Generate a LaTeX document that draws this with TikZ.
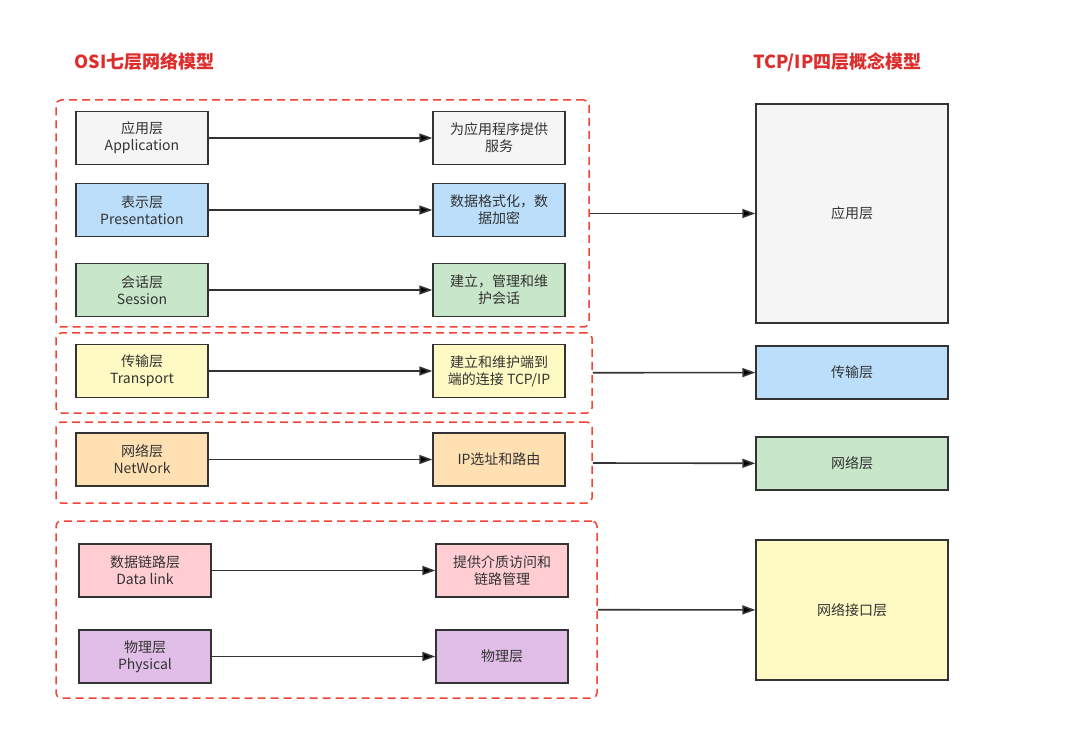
\documentclass[tikz,border=0pt]{standalone}
\usepackage{fontspec}
\setmainfont{Noto Sans CJK SC}
\usetikzlibrary{arrows.meta}
\definecolor{boxline}{RGB}{51,51,51}
\definecolor{grouped}{RGB}{244,67,54}
\definecolor{titlered}{RGB}{222,45,45}
\definecolor{cgray}{RGB}{245,245,245}
\definecolor{cblue}{RGB}{187,222,251}
\definecolor{cgreen}{RGB}{200,230,201}
\definecolor{cyellow}{RGB}{255,249,196}
\definecolor{corange}{RGB}{255,224,178}
\definecolor{cpink}{RGB}{255,205,210}
\definecolor{cpurple}{RGB}{225,190,231}
\begin{document}
\begin{tikzpicture}
[x=1pt,y=-1pt,
layer/.style={draw=boxline,line width=1.4pt,minimum width=132pt,minimum height=53pt,inner sep=2pt,align=center,text=boxline,font=\fontsize{14}{17}\selectfont},
tcplayer/.style={layer,minimum width=192pt},
group/.style={draw=grouped,line width=1.5pt,dash pattern=on 8pt off 5pt,rounded corners=5pt},
title/.style={text=titlered,font=\fontsize{18}{22}\selectfont\bfseries,anchor=west},
link/.style={draw=boxline,line width=1.6pt,-{Triangle[length=13pt,width=9pt]}}]
\useasboundingbox (0,0) rectangle (1066,751);
\node[title] (osi) at (71,62) {OSI七层网络模型};
\node[title] (tcpip) at (750,62) {TCP/IP四层概念模型};
% OSI
\node[group,minimum width=533pt,minimum height=227pt] (g1) at (322.5,213.5) {};
\node[group,minimum width=536pt,minimum height=80pt] (g2) at (324,373) {};
\node[group,minimum width=536pt,minimum height=81pt] (g3) at (324,462.5) {};
\node[group,minimum width=541pt,minimum height=177pt] (g4) at (326.5,609.5) {};
\node[layer,fill=cgray] (app) at (142,138) {应用层\\Application};
\node[layer,fill=cblue] (pres) at (142,210) {表示层\\Presentation};
\node[layer,fill=cgreen] (sess) at (142,290) {会话层\\Session};
\node[layer,fill=cyellow] (trans) at (142,371) {传输层\\Transport};
\node[layer,fill=corange] (net) at (142,459.5) {网络层\\NetWork};
\node[layer,fill=cpink] (link) at (145,570.5) {数据链路层\\Data link};
\node[layer,fill=cpurple] (phys) at (145,656.5) {物理层\\Physical};
\node[layer,fill=cgray] (appd) at (499,138) {为应用程序提供\\服务};
\node[layer,fill=cblue] (presd) at (499,210) {数据格式化，数\\据加密};
\node[layer,fill=cgreen] (sessd) at (499,290) {建立，管理和维\\护会话};
\node[layer,fill=cyellow] (transd) at (499,371) {建立和维护端到\\端的连接 TCP/IP};
\node[layer,fill=corange] (netd) at (499,459.5) {IP选址和路由};
\node[layer,fill=cpink] (linkd) at (502,570.5) {提供介质访问和\\链路管理};
\node[layer,fill=cpurple] (physd) at (502,656.5) {物理层};
% TCP/IP
\node[tcplayer,fill=cgray,minimum height=219pt] (tapp) at (852,213.5) {应用层};
\node[tcplayer,fill=cblue] (ttrans) at (852,372.5) {传输层};
\node[tcplayer,fill=cgreen] (tnet) at (852,463.5) {网络层};
\node[tcplayer,fill=cyellow,minimum height=140pt] (tif) at (852,610) {网络接口层};
\path[link]
(app) edge (appd)
(pres) edge (presd)
(sess) edge (sessd)
(trans) edge (transd)
(net) edge (netd)
(link) edge (linkd)
(phys) edge (physd)
(g1) edge (tapp)
(g2) edge (ttrans)
(g3) edge (tnet)
(g4) edge (tif);
\end{tikzpicture}
\end{document}
